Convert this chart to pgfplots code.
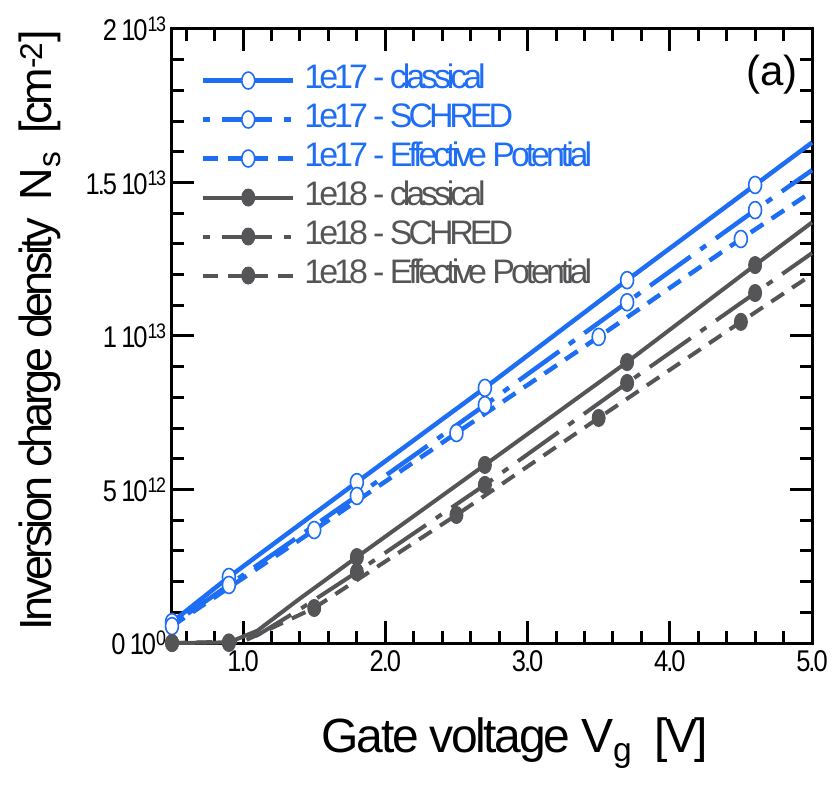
\documentclass[border=0pt]{standalone}
\usepackage{fontspec}
\setmainfont{Liberation Sans}
\usepackage{graphicx}
\usepackage{pgfplots}
\pgfplotsset{compat=1.18}
\definecolor{cblue}{RGB}{30,110,245}
\definecolor{cgray}{RGB}{85,85,88}
\newcommand{\tickfont}{\fontsize{30}{34}\selectfont\addfontfeatures{LetterSpace=-8}}
\newcommand{\xlabfont}{\fontsize{48}{54}\selectfont\addfontfeatures{LetterSpace=-5}}
\newcommand{\ylabfont}{\fontsize{45}{50}\selectfont\addfontfeatures{LetterSpace=-8}}
\newcommand{\legfont}{\fontsize{34}{38}\selectfont\addfontfeatures{LetterSpace=-12}}
\newcommand{\ticklab}[1]{\scalebox{0.85}[1]{#1}}
\begin{document}
\begin{tikzpicture}
\begin{axis}[
  scale only axis, width=640pt, height=614pt,
  xmin=0.5, xmax=5.0, ymin=0, ymax=20,
  clip=false,
  axis line style={line width=3pt},
  every tick/.style={line width=3pt, black},
  major tick length=22pt, minor tick length=12pt,
  xtick={1,2,3,4,5},
  xticklabels={\ticklab{1.0},\ticklab{2.0},\ticklab{3.0},\ticklab{4.0},\ticklab{5.0}},
  minor xtick={0.6,0.8,1.2,1.4,1.6,1.8,2.2,2.4,2.6,2.8,3.2,3.4,3.6,3.8,4.2,4.4,4.6,4.8},
  ytick={0,5,10,15,20},
  yticklabels={\ticklab{0\hspace{5pt}10\textsuperscript{0}},\ticklab{5\hspace{5pt}10\textsuperscript{12}},\ticklab{1\hspace{5pt}10\textsuperscript{13}},\ticklab{1.5\hspace{5pt}10\textsuperscript{13}},\ticklab{2\hspace{5pt}10\textsuperscript{13}}},
  minor ytick={1,2,3,4,6,7,8,9,11,12,13,14,16,17,18,19},
  tick label style={font=\tickfont},
  xticklabel style={yshift=-4pt},
  yticklabel style={xshift=-2pt},
  xlabel={Gate voltage V\textsubscript{g}\ \ [V]},
  ylabel={Inversion charge density\ \ N\textsubscript{s}\ \ [cm\textsuperscript{-2}]},
  xlabel style={font=\xlabfont, at={(axis description cs:0.536,-0.178)}, anchor=base},
  ylabel style={font=\ylabfont, at={(axis description cs:-0.188,0.51)}, anchor=base},
  legend style={draw=none, fill=none, at={(axis description cs:0.045,0.94)}, anchor=north west,
    font=\legfont, row sep=10pt, inner sep=0pt,
    nodes={inner sep=0pt, text height=22pt, text depth=7pt}},
  legend cell align=left,
  legend image code/.code={\draw (0pt,0pt) -- (90pt,0pt); \draw[mark indices={1}] plot coordinates {(45pt,0pt)};},
  bluemark/.style={mark=*, mark size=8.5pt, mark options={solid, xscale=0.76, fill=white, draw=cblue, line width=1.6pt}},
  graymark/.style={mark=*, mark size=8.5pt, mark options={solid, xscale=0.76, fill=cgray, draw=cgray, line width=1pt}},
  schred/.style={dash pattern=on 50pt off 12pt on 7pt off 12pt, dash phase=62pt},
  effpot/.style={dash pattern=on 15pt off 10pt},
]
\addplot[cblue, line width=4.5pt, bluemark, mark indices={1,2,3,4,5,6}] coordinates {
 (0.5,0.68) (0.9,2.15) (1.8,5.24) (2.7,8.31) (3.7,11.82) (4.6,14.92) (5.0,16.3)};
\addlegendentry{\hspace{9pt}\textcolor{cblue}{1e17 - classical}}
\addplot[cblue, line width=4.5pt, schred, bluemark, mark indices={2,3,4,5,6}] coordinates {
 (0.5,0.60) (0.9,1.89) (1.8,4.79) (2.7,7.75) (3.7,11.10) (4.6,14.10) (5.0,15.4)};
\addlegendentry{\hspace{9pt}\textcolor{cblue}{1e17 - SCHRED}}
\addplot[cblue, line width=4.5pt, effpot, bluemark, mark indices={1,2,3,4,5}] coordinates {
 (0.5,0.55) (1.5,3.68) (2.5,6.84) (3.5,9.97) (4.5,13.16) (5.0,14.7)};
\addlegendentry{\hspace{9pt}\textcolor{cblue}{1e17 - Effective Potential}}
\addplot[cgray, line width=4pt, graymark, mark indices={1,2,5,6,7,8}] coordinates {
 (0.5,0.0) (0.9,0.02) (1.1,0.40) (1.4,1.45) (1.8,2.80) (2.7,5.80) (3.7,9.15) (4.6,12.31) (5.0,13.7)};
\addlegendentry{\hspace{9pt}\textcolor{cgray}{1e18 - classical}}
\addplot[cgray, line width=4pt, schred, graymark, mark indices={1,4,5,6,7}] coordinates {
 (0.9,0.0) (1.1,0.25) (1.4,1.10) (1.8,2.31) (2.7,5.15) (3.7,8.47) (4.6,11.40) (5.0,12.7)};
\addlegendentry{\hspace{9pt}\textcolor{cgray}{1e18 - SCHRED}}
\addplot[cgray, line width=4pt, effpot, graymark, mark indices={1,3,4,5,6}] coordinates {
 (0.5,0.0) (1.0,0.05) (1.5,1.14) (2.5,4.17) (3.5,7.33) (4.5,10.46) (5.0,12.0)};
\addlegendentry{\hspace{9pt}\textcolor{cgray}{1e18 - Effective Potential}}
\node[font=\fontsize{42}{46}\selectfont, anchor=center] at (axis description cs:0.9375,0.925) {(a)};
\end{axis}
\pgfresetboundingbox
\path[use as bounding box] (-172pt,-143pt) rectangle (665pt,643pt);
\end{tikzpicture}
\end{document}
